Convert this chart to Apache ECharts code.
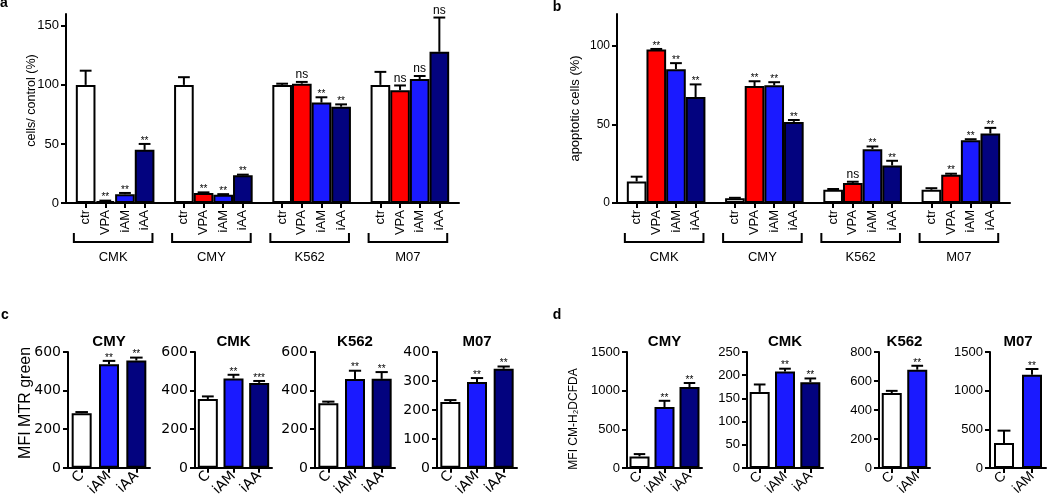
<!DOCTYPE html>
<html>
<head>
<meta charset="utf-8">
<script src="https://cdn.jsdelivr.net/npm/echarts@6/dist/echarts.min.js"></script>
<style>
html,body{margin:0;padding:0;background:#ffffff;}
#chart{width:1050px;height:499px;}
</style>
</head>
<body>
<div id="chart"></div>
<script>
// ================= DATA =================
// Panels a and b
const groupsAB = ['CMK', 'CMY', 'K562', 'M07'];
const treatAB = ['ctr', 'VPA', 'iAM', 'iAA'];

// a: cells / control (%), one array per treatment (values in groupsAB order)
const aCtr = [100, 100, 100, 100];
const aVPA = [1.5, 8.5, 101, 95.5];
const aIAM = [7.5, 7, 85, 105];
const aIAA = [45, 23.5, 81.5, 128];
const aCtrErr = [12, 6.5, 1, 11];
const aVPAErr = [0.5, 0.5, 1.5, 4];
const aIAMErr = [1, 0.5, 4.5, 2.5];
const aIAAErr = [5, 0.5, 2, 29];
const aSig = [['', '**', '**', '**'], ['', '**', '**', '**'], ['', 'ns', '**', '**'], ['', 'ns', 'ns', 'ns']];
const aTicks = [0, 50, 100, 150];
const aMax = 160;

// b: apoptotic cells (%)
const bCtr = [13.7, 3, 8.4, 8.4];
const bVPA = [97.5, 74.3, 12.7, 17.9];
const bIAM = [85, 74.7, 34.2, 39.9];
const bIAA = [67.3, 51.5, 23.8, 44.1];
const bCtrErr = [3, 0.3, 0.5, 1];
const bVPAErr = [0.3, 3, 0.8, 0.7];
const bIAMErr = [3.8, 2, 1.7, 0.6];
const bIAAErr = [8, 1.2, 3, 3.6];
const bSig = [['', '**', '**', '**'], ['', '**', '**', '**'], ['', 'ns', '**', '**'], ['', '**', '**', '**']];
const bTicks = [0, 50, 100];
const bMax = 120;

// c: MFI MTR green
const cGroups = ['CMY', 'CMK', 'K562', 'M07'];
const cTreat = ['C', 'iAM', 'iAA'];
const cCMY = [283, 537, 556];  const cCMYErr = [6, 17, 15];  const cCMYSig = ['', '**', '**'];
const cCMK = [356, 463, 440];  const cCMKErr = [14, 19, 10]; const cCMKSig = ['', '**', '***'];
const cK562 = [335, 460, 461]; const cK562Err = [8, 43, 35]; const cK562Sig = ['', '**', '**'];
const cM07 = [227, 296, 342];  const cM07Err = [7, 14, 8];   const cM07Sig = ['', '**', '**'];
const cMax = [600, 600, 600, 400];
const cStep = [200, 200, 200, 100];

// d: MFI CM-H2DCFDA
const dGroups = ['CMY', 'CMK', 'K562', 'M07'];
const dTreat3 = ['C', 'iAM', 'iAA'];
const dTreat2 = ['C', 'iAM'];
const dCMY = [150, 789, 1047]; const dCMYErr = [30, 80, 52]; const dCMYSig = ['', '**', '**'];
const dCMK = [164, 208, 185];  const dCMKErr = [16, 6, 8];   const dCMKSig = ['', '**', '**'];
const dK562 = [517, 678];      const dK562Err = [15, 27];    const dK562Sig = ['', '**'];
const dM07 = [323, 1207];      const dM07Err = [160, 73];    const dM07Sig = ['', '**'];
const dMax = [1500, 250, 800, 1500];
const dStep = [500, 50, 200, 500];

// ================= STYLE / LAYOUT =================
const FONT = '"Liberation Sans", Arial, sans-serif';
const FONT_WIDE = '"DejaVu Sans", sans-serif';
const COLORS = { ctr: '#ffffff', C: '#ffffff', VPA: '#ff0000', iAM: '#1a1aff', iAA: '#03037f' };
const AXIS_LINE = { show: true, onZero: false, lineStyle: { color: '#000', width: 2 } };
const TICK_STYLE = { color: '#000', width: 2 };
const plain = function (v) { return String(v); };

const layA = { left: 66, top: 14, width: 393, height: 189 };
const layB = { left: 617, top: 14, width: 393, height: 189 };
const layC = [
  { left: 68, top: 352, width: 82, height: 116 },
  { left: 195, top: 352, width: 77, height: 116 },
  { left: 315, top: 352, width: 80, height: 116 },
  { left: 437, top: 352, width: 80, height: 116 }
];
const layD = [
  { left: 627, top: 352, width: 75, height: 116 },
  { left: 747, top: 352, width: 76, height: 116 },
  { left: 879, top: 352, width: 51, height: 116 },
  { left: 990, top: 352, width: 56, height: 116 }
];

const grids = [], xAxes = [], yAxes = [], series = [], graphics = [];

function errSeries(idx, data, sigs, capFrac) {
  return {
    type: 'custom', xAxisIndex: idx, yAxisIndex: idx, z: 5, silent: true, clip: false,
    data: data, encode: { x: 0, y: 1 },
    renderItem: function (params, api) {
      const x = api.value(0), m = api.value(1), e = api.value(2);
      const p0 = api.coord([x, m]);
      const p1 = api.coord([x, m + e]);
      const hw = api.size([1, 0])[0] * capFrac;
      const ch = [];
      if (e > 0) {
        ch.push({ type: 'line', shape: { x1: p0[0], y1: p0[1], x2: p1[0], y2: p1[1] }, style: { stroke: '#000', lineWidth: 2 } });
        ch.push({ type: 'line', shape: { x1: p1[0] - hw, y1: p1[1], x2: p1[0] + hw, y2: p1[1] }, style: { stroke: '#000', lineWidth: 2 } });
      }
      const s = sigs[params.dataIndex];
      if (s) {
        const ns = s === 'ns';
        ch.push({ type: 'text', x: p1[0], y: p1[1] + (ns ? -1 : 2),
          style: { text: s, fill: '#000', fontSize: ns ? 12 : 10, fontFamily: FONT, align: 'center', verticalAlign: 'bottom' } });
      }
      return { type: 'group', children: ch };
    }
  };
}

function bracketSeries(idx, spans, names) {
  return {
    type: 'custom', xAxisIndex: idx, yAxisIndex: idx, silent: true, clip: false,
    data: spans.map(function (s) { return [s[0], s[1], 0]; }),
    encode: { x: [0, 1], y: 2 },
    renderItem: function (params, api) {
      const a = api.coord([api.value(0), 0]);
      const b = api.coord([api.value(1), 0]);
      const bw = api.size([1, 0])[0];
      const xL = a[0] - 0.6 * bw, xR = b[0] + 0.4 * bw, yb = a[1];
      return { type: 'group', children: [
        { type: 'polyline', shape: { points: [[xL, yb + 30], [xL, yb + 39], [xR, yb + 39], [xR, yb + 30]] },
          style: { stroke: '#000', lineWidth: 2, fill: null } },
        { type: 'text', x: (xL + xR) / 2, y: yb + 54,
          style: { text: names[params.dataIndex], fill: '#000', fontSize: 13, fontFamily: FONT, align: 'center', verticalAlign: 'middle' } }
      ] };
    }
  };
}

function addPanelAB(lay, means, errs, sigs, yMax, yTicks, yName, nameGap, nameSize, namePad, tickSize) {
  const idx = grids.length;
  const cats = [''];
  groupsAB.forEach(function () { treatAB.forEach(function (t) { cats.push(t); }); cats.push(''); });
  grids.push(lay);
  xAxes.push({
    gridIndex: idx, type: 'category', data: cats, boundaryGap: false,
    axisLine: AXIS_LINE,
    axisTick: { show: true, interval: function (i, v) { return v !== ''; }, length: 5, lineStyle: TICK_STYLE },
    axisLabel: { interval: 0, rotate: 90, margin: 7, color: '#000', fontSize: 13, fontFamily: FONT },
    splitLine: { show: false }
  });
  yAxes.push({
    gridIndex: idx, type: 'value', min: 0, max: yMax, interval: yTicks[1] - yTicks[0],
    axisLine: AXIS_LINE,
    axisTick: { show: true, length: 5, lineStyle: TICK_STYLE, customValues: yTicks },
    axisLabel: { customValues: yTicks, margin: 7, color: '#000', fontSize: tickSize, fontFamily: FONT, formatter: plain },
    splitLine: { show: false },
    name: yName, nameLocation: 'middle', nameGap: nameGap, nameMoveOverlap: false,
    nameTextStyle: { color: '#000', fontSize: nameSize, fontFamily: FONT, padding: namePad }
  });
  const barData = cats.map(function () { return '-'; });
  const errData = [], sigList = [], spans = [];
  groupsAB.forEach(function (g, gi) {
    spans.push([1 + gi * 5, 1 + gi * 5 + treatAB.length - 1]);
    treatAB.forEach(function (t, ti) {
      const slot = 1 + gi * 5 + ti;
      barData[slot] = { value: means[ti][gi], itemStyle: { color: COLORS[t] } };
      errData.push([slot, means[ti][gi], errs[ti][gi]]);
      sigList.push(sigs[gi][ti]);
    });
  });
  series.push({
    type: 'bar', xAxisIndex: idx, yAxisIndex: idx, data: barData, barCategoryGap: '0%', silent: true,
    itemStyle: { borderColor: '#000', borderWidth: 2 }
  });
  series.push(errSeries(idx, errData, sigList, 0.3));
  series.push(bracketSeries(idx, spans, groupsAB));
}

function addSmall(lay, treats, vals, errs, sigs, yMax, yStep, title, yName, nameGap, nameSize, namePad, tickFont, tickSize, xFont, xSize) {
  const idx = grids.length;
  grids.push(lay);
  xAxes.push({
    gridIndex: idx, type: 'category', data: treats, boundaryGap: true,
    axisLine: AXIS_LINE,
    axisTick: { show: true, alignWithLabel: true, length: 5, lineStyle: TICK_STYLE },
    axisLabel: { interval: 0, rotate: 45, margin: 6, color: '#000', fontSize: xSize, fontFamily: xFont },
    splitLine: { show: false }
  });
  const y = {
    gridIndex: idx, type: 'value', min: 0, max: yMax, interval: yStep,
    axisLine: AXIS_LINE,
    axisTick: { show: true, length: 5, lineStyle: TICK_STYLE },
    axisLabel: { margin: 7, color: '#000', fontSize: tickSize, fontFamily: tickFont, formatter: plain },
    splitLine: { show: false }
  };
  if (yName) {
    y.name = yName; y.nameLocation = 'middle'; y.nameGap = nameGap; y.nameMoveOverlap = false;
    y.nameTextStyle = { color: '#000', fontSize: nameSize, fontFamily: FONT, padding: namePad };
  }
  yAxes.push(y);
  series.push({
    type: 'bar', xAxisIndex: idx, yAxisIndex: idx, barWidth: 20, silent: true,
    data: vals.map(function (v, i) { return { value: v, itemStyle: { color: COLORS[treats[i]] } }; }),
    itemStyle: { borderColor: '#000', borderWidth: 2 }
  });
  series.push(errSeries(idx, vals.map(function (v, i) { return [i, v, errs[i]]; }), sigs, 0.23));
  graphics.push({ type: 'text', x: lay.left + lay.width / 2, y: 342,
    style: { text: title, fill: '#000', fontSize: 15, fontWeight: 'bold', fontFamily: FONT, align: 'center', verticalAlign: 'middle' } });
}

// ---- panel a & b ----
addPanelAB(layA, [aCtr, aVPA, aIAM, aIAA], [aCtrErr, aVPAErr, aIAMErr, aIAAErr], aSig, aMax, aTicks,
  'cells/ control (%)', 28, 12.5, [0, 0, 0, 16], 13);
addPanelAB(layB, [bCtr, bVPA, bIAM, bIAA], [bCtrErr, bVPAErr, bIAMErr, bIAAErr], bSig, bMax, bTicks,
  'apoptotic cells (%)', 35, 13, [0, 0, 0, 0], 12);

// ---- panel c ----
const cVals = [cCMY, cCMK, cK562, cM07];
const cErrs = [cCMYErr, cCMKErr, cK562Err, cM07Err];
const cSigs = [cCMYSig, cCMKSig, cK562Sig, cM07Sig];
cGroups.forEach(function (g, i) {
  addSmall(layC[i], cTreat, cVals[i], cErrs[i], cSigs[i], cMax[i], cStep[i], g,
    i === 0 ? 'MFI MTR green' : null, 34, 16, [0, 0, 0, 14], FONT_WIDE, 14, FONT_WIDE, 14);
});

// ---- panel d ----
const dVals = [dCMY, dCMK, dK562, dM07];
const dErrs = [dCMYErr, dCMKErr, dK562Err, dM07Err];
const dSigs = [dCMYSig, dCMKSig, dK562Sig, dM07Sig];
const dTreats = [dTreat3, dTreat3, dTreat2, dTreat2];
dGroups.forEach(function (g, i) {
  addSmall(layD[i], dTreats[i], dVals[i], dErrs[i], dSigs[i], dMax[i], dStep[i], g,
    i === 0 ? 'MFI CM-H\u2082DCFDA' : null, 47, 12, [0, 18, 0, 0], FONT, 13, FONT, 14);
});

// ---- panel letters ----
[['a', 4, 3], ['b', 557, 7], ['c', 5, 315], ['d', 557, 315]].forEach(function (p) {
  graphics.push({ type: 'text', x: p[1], y: p[2],
    style: { text: p[0], fill: '#000', fontSize: 14, fontWeight: 'bold', fontFamily: FONT, align: 'center', verticalAlign: 'middle' } });
});

const chart = echarts.init(document.getElementById('chart'), null, { renderer: 'canvas' });
chart.setOption({
  animation: false,
  backgroundColor: '#ffffff',
  grid: grids,
  xAxis: xAxes,
  yAxis: yAxes,
  series: series,
  graphic: graphics
});
</script>
</body>
</html>
